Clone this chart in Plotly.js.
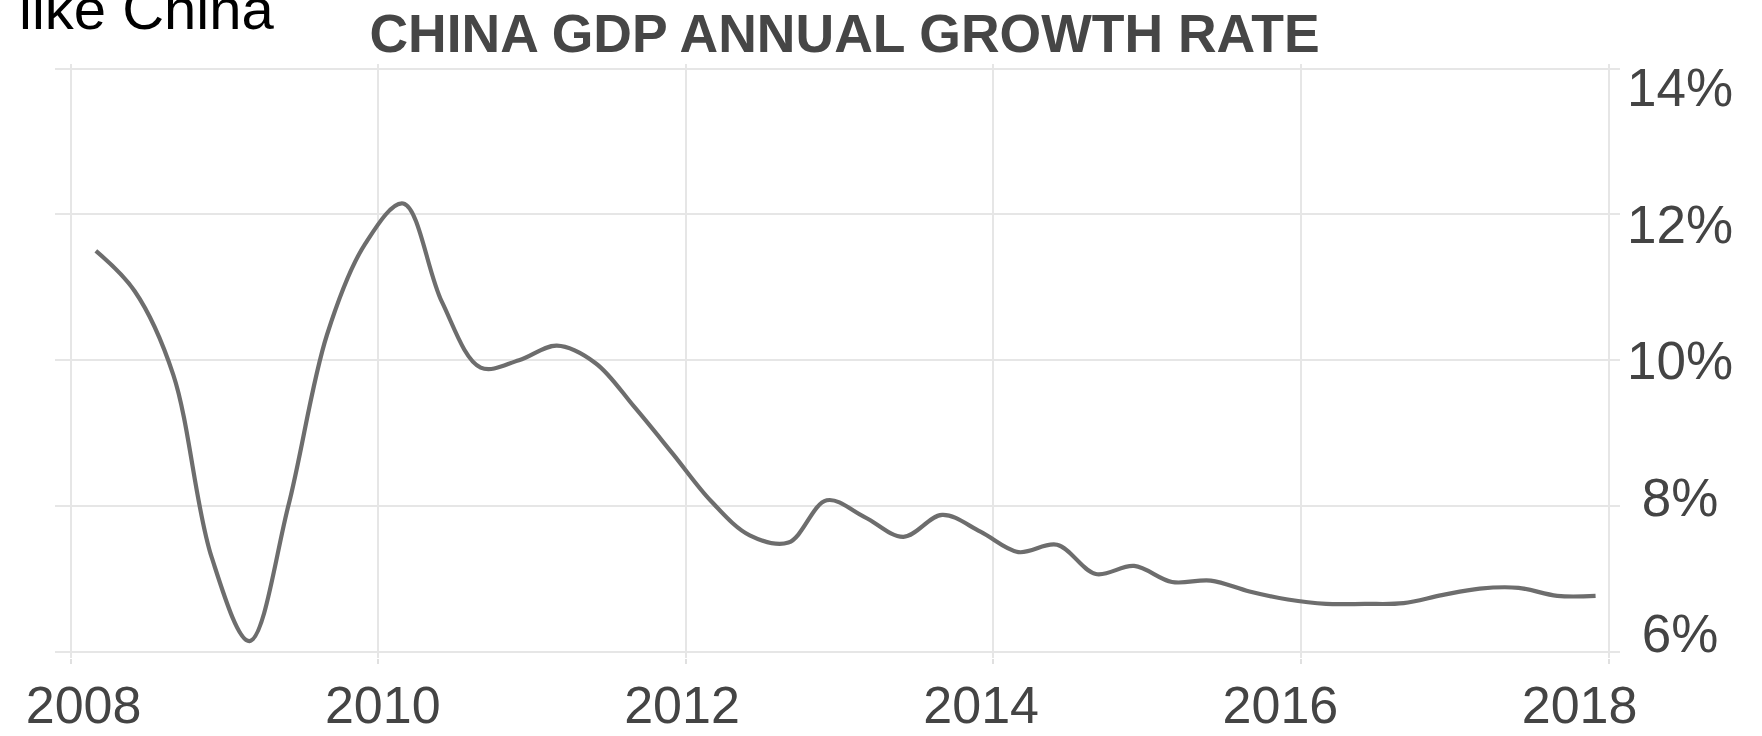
<!DOCTYPE html>
<html>
<head>
<meta charset="utf-8">
<script src="https://cdn.plot.ly/plotly-3.0.1.min.js"></script>
<style>
  html, body { margin: 0; padding: 0; background: #ffffff; }
  #chart { width: 1762px; height: 736px; }
</style>
</head>
<body>
<div id="chart"></div>
<script>
// ---- Data (China GDP annual growth rate, quarterly, %) ----
const quarters = [
  '2008-03-01','2008-06-01','2008-09-01','2008-12-01',
  '2009-03-01','2009-06-01','2009-09-01','2009-12-01',
  '2010-03-01','2010-06-01','2010-09-01','2010-12-01',
  '2011-03-01','2011-06-01','2011-09-01','2011-12-01',
  '2012-03-01','2012-06-01','2012-09-01','2012-12-01',
  '2013-03-01','2013-06-01','2013-09-01','2013-12-01',
  '2014-03-01','2014-06-01','2014-09-01','2014-12-01',
  '2015-03-01','2015-06-01','2015-09-01','2015-12-01',
  '2016-03-01','2016-06-01','2016-09-01','2016-12-01',
  '2017-03-01','2017-06-01','2017-09-01','2017-12-01'
];
const growthRate = [
  11.5, 10.95, 9.8, 7.3,
  6.15, 8.0, 10.35, 11.6,
  12.15, 10.8, 9.9, 10.0,
  10.2, 9.96, 9.36, 8.72,
  8.07, 7.6, 7.5, 8.08,
  7.85, 7.58, 7.88, 7.65,
  7.37, 7.47, 7.07, 7.18,
  6.96, 6.98, 6.83, 6.72,
  6.66, 6.66, 6.67, 6.78,
  6.87, 6.88, 6.77, 6.77
];
const xTickYears = [2008, 2010, 2012, 2014, 2016, 2018];
const xTickLabels = ['2008', '2010', '2012', '2014', '2016', '2018'];
const yTickValues = [6, 8, 10, 12, 14];
const yTickLabels = ['\u00a06%', '\u00a08%', '10%', '12%', '14%'];
const chartTitle = 'CHINA GDP ANNUAL GROWTH RATE';
const cornerText = 'like China';

// ---- Styling ----
const FONT = 'Liberation Sans, Arial, Helvetica, sans-serif';
const TXT = '#444444';
const GRID = '#e6e6e6';

const trace = {
  x: quarters,
  y: growthRate,
  type: 'scatter',
  mode: 'lines',
  line: { color: '#6d6d6d', width: 4.2, shape: 'spline', smoothing: 1 },
  hoverinfo: 'x+y',
  showlegend: false
};

// empty trace that only registers the overlaid label axes
const labelAxesHolder = {
  x: [], y: [],
  xaxis: 'x2', yaxis: 'y2',
  type: 'scatter', mode: 'lines',
  hoverinfo: 'skip', showlegend: false
};

const layout = {
  width: 1762,
  height: 736,
  paper_bgcolor: '#ffffff',
  plot_bgcolor: '#ffffff',
  margin: { l: 55, r: 142, t: 64, b: 78, pad: 0 },
  showlegend: false,
  font: { family: FONT, color: TXT },
  title: {
    text: chartTitle,
    font: { family: FONT, size: 53.5, color: '#464646', weight: 'bold' },
    xref: 'container', x: 0.4793, xanchor: 'center',
    yref: 'container', y: 0.955, yanchor: 'middle'
  },
  xaxis: {
    type: 'date',
    range: ['2007-11-25', '2018-01-28'],
    tickvals: xTickYears.map(y => y + '-01-01'),
    showticklabels: false,
    showgrid: true, gridcolor: GRID, gridwidth: 2,
    zeroline: false, showline: false,
    ticks: 'outside', ticklen: 5, tickcolor: '#e0e0e0', tickwidth: 2
  },
  xaxis2: {
    overlaying: 'x', anchor: 'y', side: 'bottom',
    type: 'linear',
    range: [2007.809, 2018.270],
    tickvals: xTickYears,
    ticktext: xTickLabels,
    showgrid: false, zeroline: false, showline: false,
    ticks: '',
    ticklabelstandoff: 12,
    tickfont: { family: FONT, size: 52, color: TXT }
  },
  yaxis: {
    range: [5.918, 14.062],
    tickvals: yTickValues,
    showticklabels: false,
    showgrid: true, gridcolor: GRID, gridwidth: 2,
    zeroline: false, showline: false, ticks: ''
  },
  yaxis2: {
    overlaying: 'y', anchor: 'x', side: 'right',
    range: [5.641, 14.344],
    tickvals: yTickValues,
    ticktext: yTickLabels,
    showgrid: false, zeroline: false, showline: false,
    ticks: '',
    ticklabelstandoff: 6,
    tickfont: { family: FONT, size: 53, color: TXT }
  },
  annotations: [{
    text: cornerText,
    xref: 'paper', yref: 'paper',
    x: -0.0243, y: 1.0346,
    xanchor: 'left', yanchor: 'bottom',
    showarrow: false,
    font: { family: FONT, size: 58, color: '#000000' }
  }]
};

Plotly.newPlot('chart', [trace, labelAxesHolder], layout, { displayModeBar: false, staticPlot: true });
</script>
</body>
</html>
